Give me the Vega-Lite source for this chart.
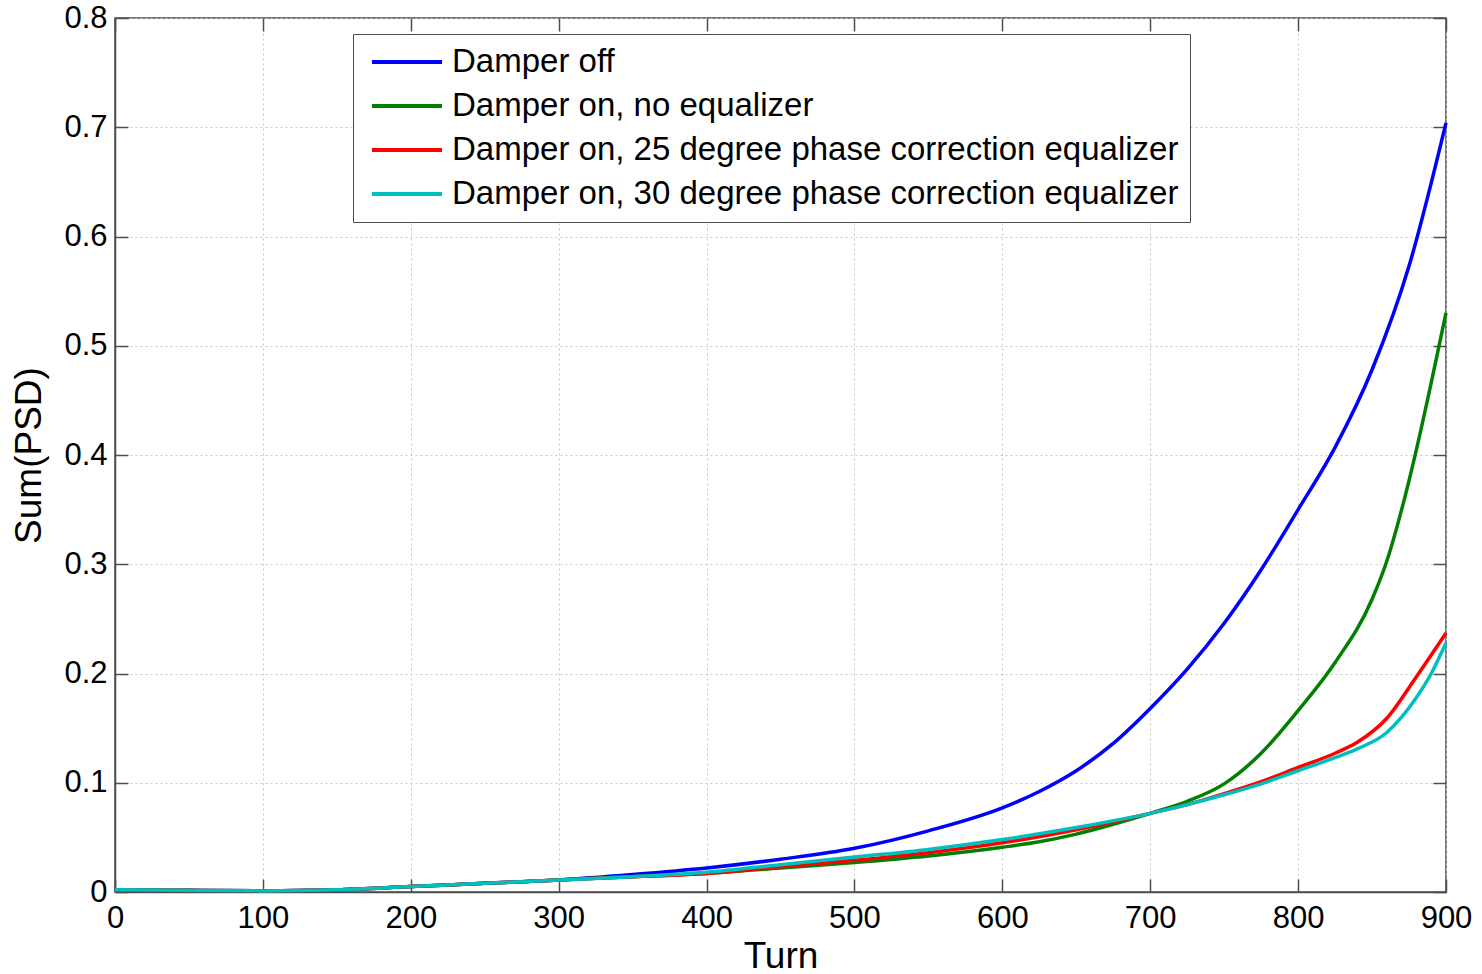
{
  "$schema": "https://vega.github.io/schema/vega-lite/v6.json",
  "autosize": "none",
  "width": 1331,
  "height": 874,
  "padding": {"left": 115, "top": 18, "right": 36, "bottom": 82},
  "background": "white",
  "config": {
    "font": "Liberation Sans",
    "view": {"stroke": "#4d4d4d", "strokeWidth": 1.5},
    "axis": {
      "labelFont": "Liberation Sans",
      "titleFont": "Liberation Sans",
      "labelColor": "black",
      "titleColor": "black",
      "labelFontSize": 31,
      "titleFontSize": 37,
      "titleFontWeight": "normal",
      "domainColor": "#4d4d4d",
      "domainWidth": 1.5,
      "tickColor": "#4d4d4d",
      "tickWidth": 1.5,
      "tickSize": -13,
      "gridColor": "#c8c8c8",
      "gridDash": [2, 3],
      "gridWidth": 1
    }
  },
  "data": {
    "values": [
      {"t": 0, "v": 0.002, "s": "Damper off"},
      {"t": 50, "v": 0.0015, "s": "Damper off"},
      {"t": 100, "v": 0.001, "s": "Damper off"},
      {"t": 150, "v": 0.002, "s": "Damper off"},
      {"t": 200, "v": 0.005, "s": "Damper off"},
      {"t": 250, "v": 0.008, "s": "Damper off"},
      {"t": 300, "v": 0.011, "s": "Damper off"},
      {"t": 350, "v": 0.016, "s": "Damper off"},
      {"t": 400, "v": 0.022, "s": "Damper off"},
      {"t": 450, "v": 0.030, "s": "Damper off"},
      {"t": 500, "v": 0.040, "s": "Damper off"},
      {"t": 550, "v": 0.056, "s": "Damper off"},
      {"t": 600, "v": 0.077, "s": "Damper off"},
      {"t": 625, "v": 0.092, "s": "Damper off"},
      {"t": 650, "v": 0.111, "s": "Damper off"},
      {"t": 675, "v": 0.136, "s": "Damper off"},
      {"t": 700, "v": 0.168, "s": "Damper off"},
      {"t": 725, "v": 0.204, "s": "Damper off"},
      {"t": 750, "v": 0.246, "s": "Damper off"},
      {"t": 775, "v": 0.295, "s": "Damper off"},
      {"t": 800, "v": 0.350, "s": "Damper off"},
      {"t": 825, "v": 0.407, "s": "Damper off"},
      {"t": 850, "v": 0.478, "s": "Damper off"},
      {"t": 875, "v": 0.573, "s": "Damper off"},
      {"t": 900, "v": 0.704, "s": "Damper off"},

      {"t": 0, "v": 0.002, "s": "Damper on, no equalizer"},
      {"t": 50, "v": 0.0015, "s": "Damper on, no equalizer"},
      {"t": 100, "v": 0.001, "s": "Damper on, no equalizer"},
      {"t": 150, "v": 0.002, "s": "Damper on, no equalizer"},
      {"t": 200, "v": 0.005, "s": "Damper on, no equalizer"},
      {"t": 250, "v": 0.008, "s": "Damper on, no equalizer"},
      {"t": 300, "v": 0.011, "s": "Damper on, no equalizer"},
      {"t": 350, "v": 0.014, "s": "Damper on, no equalizer"},
      {"t": 400, "v": 0.017, "s": "Damper on, no equalizer"},
      {"t": 450, "v": 0.022, "s": "Damper on, no equalizer"},
      {"t": 500, "v": 0.027, "s": "Damper on, no equalizer"},
      {"t": 550, "v": 0.033, "s": "Damper on, no equalizer"},
      {"t": 600, "v": 0.041, "s": "Damper on, no equalizer"},
      {"t": 625, "v": 0.046, "s": "Damper on, no equalizer"},
      {"t": 650, "v": 0.053, "s": "Damper on, no equalizer"},
      {"t": 675, "v": 0.062, "s": "Damper on, no equalizer"},
      {"t": 700, "v": 0.072, "s": "Damper on, no equalizer"},
      {"t": 725, "v": 0.083, "s": "Damper on, no equalizer"},
      {"t": 750, "v": 0.099, "s": "Damper on, no equalizer"},
      {"t": 775, "v": 0.127, "s": "Damper on, no equalizer"},
      {"t": 800, "v": 0.166, "s": "Damper on, no equalizer"},
      {"t": 825, "v": 0.210, "s": "Damper on, no equalizer"},
      {"t": 850, "v": 0.268, "s": "Damper on, no equalizer"},
      {"t": 860, "v": 0.303, "s": "Damper on, no equalizer"},
      {"t": 870, "v": 0.350, "s": "Damper on, no equalizer"},
      {"t": 880, "v": 0.405, "s": "Damper on, no equalizer"},
      {"t": 890, "v": 0.466, "s": "Damper on, no equalizer"},
      {"t": 900, "v": 0.530, "s": "Damper on, no equalizer"},

      {"t": 0, "v": 0.002, "s": "Damper on, 25 degree phase correction equalizer"},
      {"t": 50, "v": 0.0015, "s": "Damper on, 25 degree phase correction equalizer"},
      {"t": 100, "v": 0.001, "s": "Damper on, 25 degree phase correction equalizer"},
      {"t": 150, "v": 0.002, "s": "Damper on, 25 degree phase correction equalizer"},
      {"t": 200, "v": 0.005, "s": "Damper on, 25 degree phase correction equalizer"},
      {"t": 250, "v": 0.008, "s": "Damper on, 25 degree phase correction equalizer"},
      {"t": 300, "v": 0.011, "s": "Damper on, 25 degree phase correction equalizer"},
      {"t": 350, "v": 0.014, "s": "Damper on, 25 degree phase correction equalizer"},
      {"t": 400, "v": 0.017, "s": "Damper on, 25 degree phase correction equalizer"},
      {"t": 450, "v": 0.023, "s": "Damper on, 25 degree phase correction equalizer"},
      {"t": 500, "v": 0.029, "s": "Damper on, 25 degree phase correction equalizer"},
      {"t": 550, "v": 0.036, "s": "Damper on, 25 degree phase correction equalizer"},
      {"t": 600, "v": 0.045, "s": "Damper on, 25 degree phase correction equalizer"},
      {"t": 650, "v": 0.057, "s": "Damper on, 25 degree phase correction equalizer"},
      {"t": 700, "v": 0.072, "s": "Damper on, 25 degree phase correction equalizer"},
      {"t": 725, "v": 0.080, "s": "Damper on, 25 degree phase correction equalizer"},
      {"t": 750, "v": 0.090, "s": "Damper on, 25 degree phase correction equalizer"},
      {"t": 775, "v": 0.101, "s": "Damper on, 25 degree phase correction equalizer"},
      {"t": 800, "v": 0.114, "s": "Damper on, 25 degree phase correction equalizer"},
      {"t": 825, "v": 0.127, "s": "Damper on, 25 degree phase correction equalizer"},
      {"t": 840, "v": 0.137, "s": "Damper on, 25 degree phase correction equalizer"},
      {"t": 860, "v": 0.159, "s": "Damper on, 25 degree phase correction equalizer"},
      {"t": 880, "v": 0.197, "s": "Damper on, 25 degree phase correction equalizer"},
      {"t": 900, "v": 0.237, "s": "Damper on, 25 degree phase correction equalizer"},

      {"t": 0, "v": 0.002, "s": "Damper on, 30 degree phase correction equalizer"},
      {"t": 50, "v": 0.0015, "s": "Damper on, 30 degree phase correction equalizer"},
      {"t": 100, "v": 0.001, "s": "Damper on, 30 degree phase correction equalizer"},
      {"t": 150, "v": 0.002, "s": "Damper on, 30 degree phase correction equalizer"},
      {"t": 200, "v": 0.005, "s": "Damper on, 30 degree phase correction equalizer"},
      {"t": 250, "v": 0.008, "s": "Damper on, 30 degree phase correction equalizer"},
      {"t": 300, "v": 0.011, "s": "Damper on, 30 degree phase correction equalizer"},
      {"t": 350, "v": 0.014, "s": "Damper on, 30 degree phase correction equalizer"},
      {"t": 400, "v": 0.018, "s": "Damper on, 30 degree phase correction equalizer"},
      {"t": 450, "v": 0.025, "s": "Damper on, 30 degree phase correction equalizer"},
      {"t": 500, "v": 0.032, "s": "Damper on, 30 degree phase correction equalizer"},
      {"t": 550, "v": 0.039, "s": "Damper on, 30 degree phase correction equalizer"},
      {"t": 600, "v": 0.048, "s": "Damper on, 30 degree phase correction equalizer"},
      {"t": 650, "v": 0.059, "s": "Damper on, 30 degree phase correction equalizer"},
      {"t": 700, "v": 0.072, "s": "Damper on, 30 degree phase correction equalizer"},
      {"t": 725, "v": 0.080, "s": "Damper on, 30 degree phase correction equalizer"},
      {"t": 750, "v": 0.089, "s": "Damper on, 30 degree phase correction equalizer"},
      {"t": 775, "v": 0.099, "s": "Damper on, 30 degree phase correction equalizer"},
      {"t": 800, "v": 0.111, "s": "Damper on, 30 degree phase correction equalizer"},
      {"t": 825, "v": 0.123, "s": "Damper on, 30 degree phase correction equalizer"},
      {"t": 840, "v": 0.131, "s": "Damper on, 30 degree phase correction equalizer"},
      {"t": 860, "v": 0.146, "s": "Damper on, 30 degree phase correction equalizer"},
      {"t": 870, "v": 0.160, "s": "Damper on, 30 degree phase correction equalizer"},
      {"t": 880, "v": 0.178, "s": "Damper on, 30 degree phase correction equalizer"},
      {"t": 890, "v": 0.200, "s": "Damper on, 30 degree phase correction equalizer"},
      {"t": 900, "v": 0.228, "s": "Damper on, 30 degree phase correction equalizer"}
    ]
  },
  "layer": [
    {
      "mark": {"type": "line", "strokeWidth": 3.5, "interpolate": "monotone"},
      "encoding": {
        "x": {
          "field": "t", "type": "quantitative",
          "scale": {"domain": [0, 900], "nice": false, "zero": false},
          "axis": {"title": "Turn", "values": [0, 100, 200, 300, 400, 500, 600, 700, 800, 900], "labelPadding": 24, "titlePadding": 5, "labelFlush": false}
        },
        "y": {
          "field": "v", "type": "quantitative",
          "scale": {"domain": [0, 0.8], "nice": false},
          "axis": {"title": "Sum(PSD)", "values": [0, 0.1, 0.2, 0.3, 0.4, 0.5, 0.6, 0.7, 0.8], "format": ".1~f", "labelPadding": 21, "titlePadding": 15, "labelFlush": false}
        },
        "color": {
          "field": "s", "type": "nominal",
          "scale": {
            "domain": ["Damper off", "Damper on, no equalizer", "Damper on, 25 degree phase correction equalizer", "Damper on, 30 degree phase correction equalizer"],
            "range": ["#0000ff", "#008000", "#ff0000", "#00bfbf"]
          },
          "legend": {
            "title": null,
            "orient": "none",
            "legendX": 238,
            "legendY": 16,
            "symbolType": "M-0.6,0H4.067",
            "symbolStrokeWidth": 4,
            "symbolSize": 900,
            "symbolFillColor": "transparent",
            "labelFont": "Liberation Sans",
            "labelFontSize": 33,
            "labelColor": "black",
            "labelLimit": 1000,
            "labelOffset": 54,
            "rowPadding": 10,
            "padding": 11,
            "strokeColor": "#4d4d4d",
            "fillColor": "white"
          }
        }
      }
    },
    {
      "mark": {"type": "line", "opacity": 0},
      "encoding": {
        "x": {
          "field": "t", "type": "quantitative",
          "scale": {"domain": [0, 900], "nice": false, "zero": false},
          "axis": {"orient": "top", "title": null, "labels": false, "grid": false, "domain": false, "values": [0, 100, 200, 300, 400, 500, 600, 700, 800, 900]}
        },
        "y": {
          "field": "v", "type": "quantitative",
          "scale": {"domain": [0, 0.8], "nice": false},
          "axis": {"orient": "right", "title": null, "labels": false, "grid": false, "domain": false, "values": [0, 0.1, 0.2, 0.3, 0.4, 0.5, 0.6, 0.7, 0.8]}
        },
        "detail": {"field": "s"}
      }
    }
  ],
  "resolve": {"axis": {"x": "independent", "y": "independent"}}
}
